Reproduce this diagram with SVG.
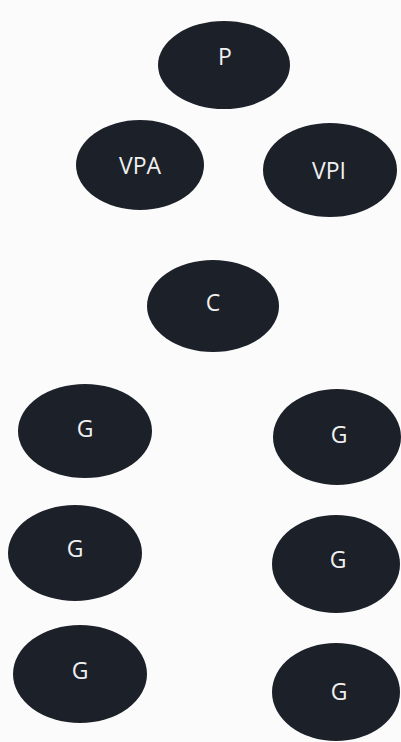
<svg xmlns="http://www.w3.org/2000/svg" width="401" height="742" viewBox="0 0 401 742">
<style>
.n{fill:#1c2029}
.t{font-family:"Open Sans","Liberation Sans",sans-serif;font-size:23px;fill:#f0f0f0;text-anchor:middle}
</style>
<rect width="401" height="742" fill="#fbfbfb"/>
<g id="connectors"></g>
<g id="nP"><ellipse class="n" cx="224" cy="65" rx="66" ry="44"/><text class="t" x="225" y="65">P</text></g>
<g id="nVPA"><ellipse class="n" cx="140" cy="165" rx="64" ry="45"/><text class="t" x="140" y="174">VPA</text></g>
<g id="nVPI"><ellipse class="n" cx="330" cy="170" rx="67" ry="47"/><text class="t" x="329" y="179">VPI</text></g>
<g id="nC"><ellipse class="n" cx="213" cy="306" rx="66" ry="46"/><text class="t" x="213" y="311">C</text></g>
<g id="nG1"><ellipse class="n" cx="85" cy="431" rx="67" ry="47"/><text class="t" x="85" y="437">G</text></g>
<g id="nG2"><ellipse class="n" cx="337" cy="437" rx="64" ry="48"/><text class="t" x="339" y="443">G</text></g>
<g id="nG3"><ellipse class="n" cx="75" cy="553" rx="67" ry="48"/><text class="t" x="75" y="557">G</text></g>
<g id="nG4"><ellipse class="n" cx="336" cy="564" rx="64" ry="49"/><text class="t" x="338" y="568">G</text></g>
<g id="nG5"><ellipse class="n" cx="80" cy="674" rx="67" ry="49"/><text class="t" x="80" y="679">G</text></g>
<g id="nG6"><ellipse class="n" cx="336" cy="692" rx="64" ry="49"/><text class="t" x="339" y="700">G</text></g>
</svg>
